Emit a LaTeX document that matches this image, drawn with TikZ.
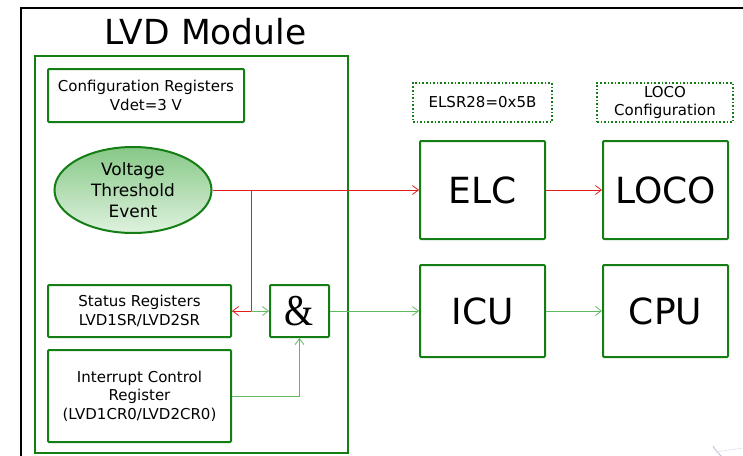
\documentclass[tikz,border=0pt]{standalone}
\usepackage{fontspec}
\setmainfont{DejaVu Sans}
\newfontfamily\ampfont{Liberation Serif}
\usetikzlibrary{arrows.meta,shapes.geometric}
\definecolor{boxgreen}{RGB}{20,125,20}
\definecolor{linkgreen}{RGB}{95,185,95}
\definecolor{linkred}{RGB}{225,30,30}
\definecolor{evtop}{RGB}{135,200,135}
\definecolor{evbottom}{RGB}{222,242,222}
\tikzset{
  blk/.style={draw=boxgreen,line width=2pt,rounded corners=1pt,align=center,inner sep=0pt},
  note/.style={draw=boxgreen,line width=1.6pt,dotted,align=center,inner sep=0pt},
  tip/.style={-{Straight Barb[length=6pt,width=9pt,line width=0.8pt]}},
  redlink/.style={draw=linkred,line width=0.9pt},
  greenlink/.style={draw=linkgreen,line width=0.9pt},
  small/.style={font=\fontsize{15}{18.5}\selectfont},
  big/.style={font=\fontsize{36}{40}\selectfont},
}
\begin{document}
\begin{tikzpicture}[x=1pt,y=-1pt]
\useasboundingbox (0,0) rectangle (743,455);
% slide frame
\draw[black,line width=2pt] (21,456) -- (21,8) -- (744,8);
% faint logo in the corner
\draw[blue!30!gray!35,line width=1pt] (713,446) arc[start angle=150,end angle=80,radius=40];
\draw[blue!20!gray!20,line width=0.6pt] (716,452) -- (743,448);
% LVD module
\node[font=\fontsize{34.5}{40}\selectfont] (title) at (205.5,32) {LVD Module};
\node[draw=boxgreen,line width=1.6pt,minimum width=313pt,minimum height=397pt,inner sep=0pt] (mod) at (191.5,254.5) {};
\node[blk,small,minimum width=196pt,minimum height=53pt] (cfg) at (146,95.5) {Configuration Registers\\Vdet=3 V};
\node[ellipse,draw=boxgreen,line width=2pt,top color=evtop,bottom color=evbottom,
      minimum width=157pt,minimum height=86pt,inner sep=0pt,align=center,font=\fontsize{17}{21}\selectfont] (ev) at (133,190) {Voltage\\Threshold\\Event};
\node[blk,small,minimum width=183pt,minimum height=52pt] (st) at (139.5,311) {Status Registers\\LVD1SR/LVD2SR};
\node[blk,minimum width=59pt,minimum height=52pt,font=\ampfont\fontsize{44}{44}\selectfont] (and) at (299.5,311) {\scalebox{0.85}[1]{\&}};
\node[blk,small,minimum width=183pt,minimum height=92pt] (ic) at (139.5,396) {Interrupt Control\\Register\\(LVD1CR0/LVD2CR0)};
% event path
\node[note,small,minimum width=139pt,minimum height=39pt] (elsr) at (482.5,102.5) {ELSR28=0x5B};
\node[note,small,minimum width=136pt,minimum height=39pt] (lcfg) at (665,102.5) {LOCO\\Configuration};
\node[blk,big,minimum width=125pt,minimum height=98pt] (elc) at (482.5,190) {ELC};
\node[blk,big,minimum width=125pt,minimum height=98pt] (loco) at (665.5,190) {LOCO};
% interrupt path
\node[blk,big,minimum width=125pt,minimum height=92pt] (icu) at (482.5,311) {ICU};
\node[blk,big,minimum width=125pt,minimum height=92pt] (cpu) at (665.5,311) {CPU};
% connectors
\coordinate (split) at (251,190);
\coordinate (drop) at (251,311);
\draw[greenlink,tip] (st.east) -- (and.west);
\draw[greenlink,tip] (ic.east) -| (and.south);
\draw[greenlink,tip] (and.east) -- (icu.west);
\draw[greenlink,tip] (icu.east) -- (cpu.west);
\draw[redlink,tip] (ev.east) -- (elc.west);
\draw[redlink] (split) -- (drop);
\draw[redlink,tip] (drop) -- (st.east);
\draw[redlink,tip] (elc.east) -- (loco.west);
\end{tikzpicture}
\end{document}
